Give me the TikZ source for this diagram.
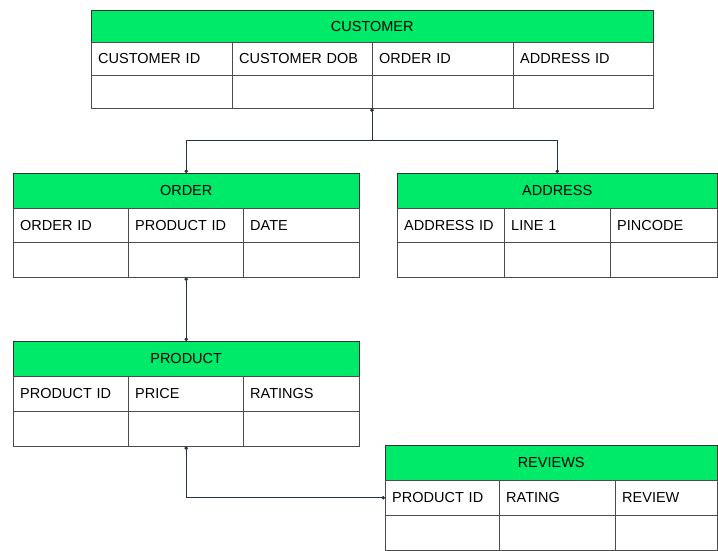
\documentclass[tikz,border=0pt]{standalone}
\usepackage{fontspec}
\setmainfont{Liberation Sans}
\usetikzlibrary{arrows.meta}

\definecolor{hdrgreen}{RGB}{0,234,106}
\definecolor{linkslate}{RGB}{38,52,66}
\newcommand{\tabfont}{\fontsize{14.5}{17}\selectfont}

\tikzset{
	hdr/.style={draw=black!80, fill=hdrgreen, anchor=north west, inner sep=0pt, minimum width=#1, font=\tabfont},
	cell/.style={draw=black!70, anchor=north west, inner xsep=7pt, inner ysep=0pt, text width=#1, align=left, font=\tabfont},
	link/.style={linkslate, line width=0.8pt},
	dots/.style={{Circle[length=3.5pt]}-{Circle[length=3.5pt]}},
	dotend/.style={-{Circle[length=3.5pt]}},
}

\begin{document}
\begin{tikzpicture}[x=1pt, y=-1pt]
		\useasboundingbox (0,0) rectangle (718,550);
		
		%--- customer
		\node[hdr=562pt, minimum height=32pt] (cust) at (91,10) {CUSTOMER};
		\node[cell=127pt, minimum height=33pt] (cid) at (91,42) {CUSTOMER ID};
		\node[cell=126pt, minimum height=33pt] (cdob) at (232,42) {CUSTOMER DOB};
		\node[cell=127pt, minimum height=33pt] (coid) at (372,42) {ORDER ID};
		\node[cell=126pt, minimum height=33pt] (caid) at (513,42) {ADDRESS ID};
		\node[cell=127pt, minimum height=33pt] (cb1) at (91,75) {};
		\node[cell=126pt, minimum height=33pt] (cb2) at (232,75) {};
		\node[cell=127pt, minimum height=33pt] (cb3) at (372,75) {};
		\node[cell=126pt, minimum height=33pt] (cb4) at (513,75) {};
		
		%--- order
		\node[hdr=346pt, minimum height=35pt] (ord) at (13,173) {ORDER};
		\node[cell=101pt, minimum height=34pt] (oid) at (13,208) {ORDER ID};
		\node[cell=101pt, minimum height=34pt] (opid) at (128,208) {PRODUCT ID};
		\node[cell=102pt, minimum height=34pt] (odate) at (243,208) {DATE};
		\node[cell=101pt, minimum height=35pt] (ob1) at (13,242) {};
		\node[cell=101pt, minimum height=35pt] (ob2) at (128,242) {};
		\node[cell=102pt, minimum height=35pt] (ob3) at (243,242) {};
		
		%--- address
		\node[hdr=320pt, minimum height=35pt] (addr) at (397,173) {ADDRESS};
		\node[cell=93pt, minimum height=34pt] (aid) at (397,208) {ADDRESS ID};
		\node[cell=92pt, minimum height=34pt] (aline) at (504,208) {LINE 1};
		\node[cell=93pt, minimum height=34pt] (apin) at (610,208) {PINCODE};
		\node[cell=93pt, minimum height=35pt] (ab1) at (397,242) {};
		\node[cell=92pt, minimum height=35pt] (ab2) at (504,242) {};
		\node[cell=93pt, minimum height=35pt] (ab3) at (610,242) {};
		
		%--- product
		\node[hdr=346pt, minimum height=35pt] (prod) at (13,341) {PRODUCT};
		\node[cell=101pt, minimum height=35pt] (ppid) at (13,376) {PRODUCT ID};
		\node[cell=101pt, minimum height=35pt] (pprice) at (128,376) {PRICE};
		\node[cell=102pt, minimum height=35pt] (prat) at (243,376) {RATINGS};
		\node[cell=101pt, minimum height=35pt] (pb1) at (13,411) {};
		\node[cell=101pt, minimum height=35pt] (pb2) at (128,411) {};
		\node[cell=102pt, minimum height=35pt] (pb3) at (243,411) {};
		
		%--- reviews
		\node[hdr=332pt, minimum height=35pt] (rev) at (385,445) {REVIEWS};
		\node[cell=100pt, minimum height=35pt] (rvpid) at (385,480) {PRODUCT ID};
		\node[cell=102pt, minimum height=35pt] (rvrat) at (499,480) {RATING};
		\node[cell=88pt, minimum height=35pt] (rvrev) at (615,480) {REVIEW};
		\node[cell=100pt, minimum height=35pt] (rvb1) at (385,515) {};
		\node[cell=102pt, minimum height=35pt] (rvb2) at (499,515) {};
		\node[cell=88pt, minimum height=35pt] (rvb3) at (615,515) {};
		
		%--- links
		\draw[link, dots] (cb3.south west) -- ++(0,32) coordinate (fork) -| (ord.north);
		\draw[link, dotend] (fork) -| (addr.north);
		\draw[link, dots] (prod.north |- ob2.south) -- (prod.north);
		\draw[link, dots] (prod.north |- pb2.south) |- (rvpid.west);
	\end{tikzpicture}
\end{document}
